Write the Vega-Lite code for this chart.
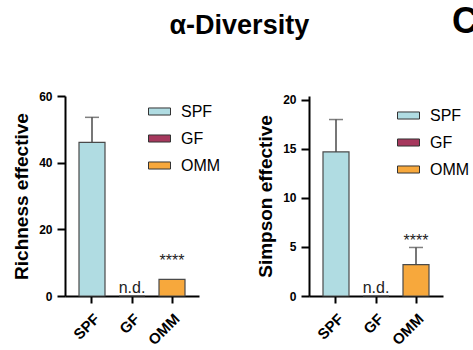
{
  "$schema": "https://vega.github.io/schema/vega-lite/v6.json",
  "background": "white",
  "padding": {"left": 12, "top": 0, "right": 5, "bottom": 5},
  "title": {"text": "α-Diversity", "fontSize": 27, "font": "Liberation Sans", "fontWeight": "bold", "color": "black", "anchor": "middle", "offset": -40, "dx": -6},
  "datasets": {
    "richness": [
      {"group": "SPF", "mean": 46.1, "upper": 53.6, "note": "", "note_y": 0},
      {"group": "GF", "mean": 0, "upper": 0, "note": "n.d.", "note_y": 0},
      {"group": "OMM", "mean": 5.0, "upper": 5.0, "note": "****", "note_y": 8.0}
    ],
    "simpson": [
      {"group": "SPF", "mean": 14.7, "upper": 18.0, "note": "", "note_y": 0},
      {"group": "GF", "mean": 0, "upper": 0, "note": "n.d.", "note_y": 0},
      {"group": "OMM", "mean": 3.2, "upper": 4.95, "note": "****", "note_y": 4.8}
    ]
  },
  "spacing": 35,
  "resolve": {"legend": {"color": "independent"}},
  "hconcat": [
    {
      "width": 134, "height": 200,
      "data": {"name": "richness"},
      "title": {"text": " ", "fontSize": 36, "fontWeight": "bold", "font": "Liberation Sans", "offset": 25, "baseline": "alphabetic"},
      "layer": [
        {
          "mark": {"type": "bar", "stroke": "#4a4a4a", "strokeWidth": 1.2},
          "encoding": {
            "x": {"field": "group", "type": "nominal", "sort": ["SPF", "GF", "OMM"], "scale": {"paddingInner": 0.35, "paddingOuter": 0.35}, "axis": {"title": null}},
            "y": {"field": "mean", "type": "quantitative", "scale": {"domain": [0, 60], "nice": false}, "axis": {"title": "Richness effective", "values": [0, 20, 40, 60]}},
            "color": {"field": "group", "type": "nominal", "scale": {"domain": ["SPF", "GF", "OMM"], "range": ["#b0dce2", "#a6385d", "#f7a83c"]}, "legend": {"orient": "none", "legendX": 83, "legendY": 4}}
          }
        },
        {
          "transform": [{"filter": "datum.upper > datum.mean"}],
          "mark": {"type": "rule", "color": "#4a4a4a", "strokeWidth": 1.5},
          "encoding": {
            "x": {"field": "group", "type": "nominal", "sort": ["SPF", "GF", "OMM"]},
            "y": {"field": "mean", "type": "quantitative"},
            "y2": {"field": "upper"}
          }
        },
        {
          "transform": [{"filter": "datum.upper > datum.mean"}],
          "mark": {"type": "tick", "color": "#4a4a4a", "thickness": 1.5, "size": 14},
          "encoding": {
            "x": {"field": "group", "type": "nominal", "sort": ["SPF", "GF", "OMM"]},
            "y": {"field": "upper", "type": "quantitative"}
          }
        },
        {
          "mark": {"type": "text", "fontSize": 16, "baseline": "alphabetic", "dy": -3, "color": "#222"},
          "encoding": {
            "x": {"field": "group", "type": "nominal", "sort": ["SPF", "GF", "OMM"]},
            "y": {"field": "note_y", "type": "quantitative"},
            "text": {"field": "note"}
          }
        }
      ]
    },
    {
      "width": 134, "height": 200,
      "data": {"name": "simpson"},
      "title": {"text": "C", "fontSize": 36, "fontWeight": "bold", "font": "Liberation Sans", "color": "black", "anchor": "end", "align": "left", "frame": "group", "dx": 9, "offset": 25, "baseline": "alphabetic"},
      "layer": [
        {
          "mark": {"type": "bar", "stroke": "#4a4a4a", "strokeWidth": 1.2},
          "encoding": {
            "x": {"field": "group", "type": "nominal", "sort": ["SPF", "GF", "OMM"], "scale": {"paddingInner": 0.35, "paddingOuter": 0.35}, "axis": {"title": null}},
            "y": {"field": "mean", "type": "quantitative", "scale": {"domain": [0, 20.4], "nice": false}, "axis": {"title": "Simpson effective", "values": [0, 5, 10, 15, 20]}},
            "color": {"field": "group", "type": "nominal", "scale": {"domain": ["SPF", "GF", "OMM"], "range": ["#b0dce2", "#a6385d", "#f7a83c"]}, "legend": {"orient": "none", "legendX": 88, "legendY": 8}}
          }
        },
        {
          "transform": [{"filter": "datum.upper > datum.mean"}],
          "mark": {"type": "rule", "color": "#4a4a4a", "strokeWidth": 1.5},
          "encoding": {
            "x": {"field": "group", "type": "nominal", "sort": ["SPF", "GF", "OMM"]},
            "y": {"field": "mean", "type": "quantitative"},
            "y2": {"field": "upper"}
          }
        },
        {
          "transform": [{"filter": "datum.upper > datum.mean"}],
          "mark": {"type": "tick", "color": "#4a4a4a", "thickness": 1.5, "size": 14},
          "encoding": {
            "x": {"field": "group", "type": "nominal", "sort": ["SPF", "GF", "OMM"]},
            "y": {"field": "upper", "type": "quantitative"}
          }
        },
        {
          "mark": {"type": "text", "fontSize": 16, "baseline": "alphabetic", "dy": -3, "color": "#222"},
          "encoding": {
            "x": {"field": "group", "type": "nominal", "sort": ["SPF", "GF", "OMM"]},
            "y": {"field": "note_y", "type": "quantitative"},
            "text": {"field": "note"}
          }
        }
      ]
    }
  ],
  "config": {
    "view": {"stroke": null},
    "font": "Liberation Sans",
    "axis": {"domainColor": "black", "domainWidth": 2, "tickColor": "black", "tickWidth": 2, "labelFont": "Liberation Sans", "labelFontWeight": "bold", "labelFontSize": 12, "labelColor": "black", "titleFont": "Liberation Sans", "titleFontWeight": "bold", "titleFontSize": 19, "titleColor": "black", "grid": false},
    "axisX": {"labelAngle": -45, "tickSize": 7, "labelPadding": 8, "labelFontSize": 15},
    "axisY": {"tickSize": 8, "labelPadding": 5, "titlePadding": 7},
    "legend": {"title": null, "symbolType": "M-1,-0.32H1V0.32H-1Z", "symbolSize": 484, "symbolStrokeColor": "#333", "symbolStrokeWidth": 1, "labelFontSize": 16, "labelFont": "Liberation Sans", "labelColor": "black", "labelOffset": 10, "rowPadding": 7, "padding": 0}
  }
}
